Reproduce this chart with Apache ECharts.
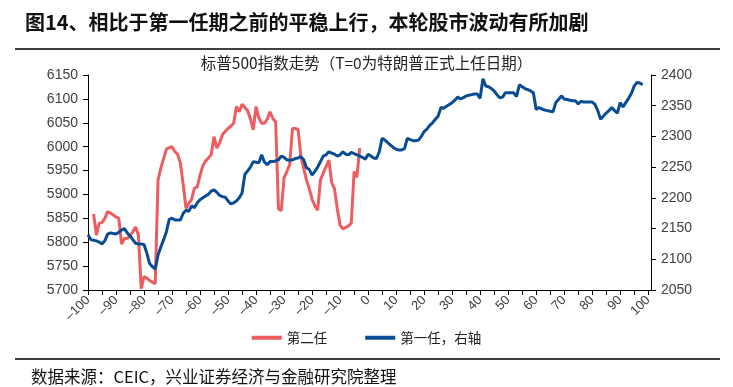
<!DOCTYPE html>
<html>
<head>
<meta charset="utf-8">
<script src="https://cdn.jsdelivr.net/npm/echarts@6/dist/echarts.min.js"></script>
<style>
html,body{margin:0;padding:0;background:#fff;}
#c{width:733px;height:387px;}
</style>
</head>
<body>
<div id="c"></div>
<script>
// Second term (left axis): T and S&P 500 level
var secondT = [-98,-97,-96,-95,-94,-93,-92,-91,-90,-89,-88,-87,-86,-85,-84,-83,-82,-81,-80,-79,-78,-77,-76,-75,-74,-73,-72,-71,-70,-69,-68,-67,-66,-65,-64,-63,-62,-61,-60,-59,-58,-57,-56,-55,-54,-53,-52,-51,-50,-49,-48,-47,-46,-45,-44,-43,-42,-41,-40,-39,-38,-37,-36,-35,-34,-33,-32,-31,-30,-29,-28,-27,-26,-25,-24,-23,-22,-21,-20,-19,-18,-17,-16,-15,-14,-13,-12,-11,-10,-9,-8,-7,-6,-5,-4,-3];
var secondValues = [5859,5815,5840,5841,5850,5864,5861,5857,5853,5850,5796,5808,5808,5813,5822,5832,5815,5703,5728,5725,5720,5716,5713,5930,5955,5975,5995,5998,6000,5990,5984,5965,5920,5871,5881,5890,5913,5916,5940,5960,5970,5976,5984,6021,5997,6008,6025,6032,6038,6043,6049,6084,6073,6089,6082,6075,6058,6035,6084,6060,6049,6049,6058,6073,6059,6052,5870,5866,5935,5948,5962,6038,6038,6036,5979,5955,5930,5912,5890,5876,5867,5930,5945,5958,5972,5925,5912,5870,5836,5828,5831,5834,5840,5948,5936,5997];
// First term (right axis)
var firstT = [];
for (var t = -100; t <= 98; t++) firstT.push(t);
var firstValues = [2140,2132,2131,2130,2128,2125,2130,2141,2143,2142,2141,2144,2148,2150,2143,2138,2132,2126,2125,2125,2124,2110,2093,2088,2084,2107,2120,2132,2145,2165,2167,2164,2164,2164,2175,2180,2178,2187,2184,2192,2197,2200,2203,2206,2211,2213,2209,2204,2202,2201,2195,2190,2192,2195,2200,2208,2238,2244,2250,2259,2258,2257,2270,2258,2254,2259,2259,2260,2262,2268,2266,2262,2261,2262,2264,2265,2267,2262,2249,2246,2237,2243,2250,2259,2268,2270,2275,2273,2271,2268,2270,2275,2271,2270,2274,2272,2270,2268,2266,2263,2271,2268,2265,2264,2275,2297,2294,2290,2286,2282,2279,2278,2278,2280,2297,2295,2293,2293,2294,2300,2308,2312,2318,2322,2328,2333,2347,2346,2349,2352,2355,2359,2364,2361,2363,2366,2367,2368,2369,2369,2362,2394,2382,2381,2378,2374,2368,2363,2364,2371,2371,2371,2371,2365,2384,2381,2378,2376,2374,2371,2344,2347,2345,2343,2342,2341,2340,2355,2360,2366,2361,2360,2359,2358,2358,2353,2357,2356,2356,2356,2356,2352,2342,2328,2333,2338,2342,2347,2342,2338,2355,2348,2355,2362,2370,2382,2388,2387,2384];
var leftTicks = {min:5700, max:6150, step:50};
var rightTicks = {min:2050, max:2400, step:50};
var xTicks = {min:-100, max:100, step:5, labelStep:10};
var legendNames = ['第二任','第一任，右轴'];

function pairs(xs, ys){ return xs.map(function(x,i){ return [x, ys[i]]; }); }

var latin = '"Liberation Sans", Arial, Helvetica, sans-serif';
var cjk = '"Noto Sans CJK SC", "Liberation Sans", sans-serif';
var chart = echarts.init(document.getElementById('c'), null, {renderer:'canvas'});
var labelColor = '#404040';
chart.setOption({
  animation:false,
  backgroundColor:'#fff',
  title:[
    {text:'图14、相比于第一任期之前的平稳上行，本轮股市波动有所加剧', left:20, top:7,
     textStyle:{fontSize:20, fontWeight:'bold', color:'#111', fontFamily:cjk}},
    {text:'标普500指数走势（T=0为特朗普正式上任日期）', left:'center', top:50,
     textStyle:{fontSize:15.5, fontWeight:'normal', color:'#222', fontFamily:cjk}},
    {text:'数据来源：CEIC，兴业证券经济与金融研究院整理', left:26, top:363,
     textStyle:{fontSize:16.5, fontWeight:'normal', color:'#111', fontFamily:cjk}}
  ],
  graphic:[
    {type:'line', shape:{x1:15,y1:49,x2:720,y2:49}, style:{stroke:'#000', lineWidth:1.5}},
    {type:'line', shape:{x1:15,y1:359,x2:720,y2:359}, style:{stroke:'#000', lineWidth:1.5}}
  ],
  legend:{
    data:legendNames, left:'center', top:326, itemWidth:30, itemHeight:4, itemGap:38,
    icon:'rect',
    textStyle:{fontSize:13.5, color:'#222', fontFamily:cjk}
  },
  grid:{left:88, right:82, top:75, bottom:97},
  xAxis:{
    type:'value', min:xTicks.min, max:101, interval:xTicks.step,
    axisLine:{onZero:false, lineStyle:{color:'#000', width:1}},
    axisTick:{show:true, length:5, lineStyle:{color:'#000'}},
    splitLine:{show:false},
    axisLabel:{
      rotate:45, margin:8, fontSize:13, color:labelColor, fontFamily:latin,
      showMaxLabel:false,
      formatter:function(v){ return (v % xTicks.labelStep === 0 && v <= xTicks.max) ? String(v).replace('-', '–') : ''; }
    }
  },
  yAxis:[
    {type:'value', min:leftTicks.min, max:leftTicks.max, interval:leftTicks.step,
     axisLine:{show:true, onZero:false, lineStyle:{color:'#000'}},
     axisTick:{show:true, length:5, lineStyle:{color:'#000'}},
     splitLine:{show:false},
     axisLabel:{fontSize:14, color:labelColor, margin:10, fontFamily:latin, formatter:function(v){return String(v);}}},
    {type:'value', min:rightTicks.min, max:rightTicks.max, interval:rightTicks.step,
     position:'right',
     axisLine:{show:true, onZero:false, lineStyle:{color:'#000'}},
     axisTick:{show:true, length:5, lineStyle:{color:'#000'}},
     splitLine:{show:false},
     axisLabel:{fontSize:14, color:labelColor, margin:10, fontFamily:latin, formatter:function(v){return String(v);}}}
  ],
  series:[
    {name:legendNames[0], type:'line', yAxisIndex:0, data:pairs(secondT, secondValues),
     showSymbol:false, symbol:'none', lineStyle:{color:'#EE5C60', width:3}, itemStyle:{color:'#EE5C60'}, z:2},
    {name:legendNames[1], type:'line', yAxisIndex:1, data:pairs(firstT, firstValues),
     showSymbol:false, symbol:'none', lineStyle:{color:'#0A4C93', width:3}, itemStyle:{color:'#0A4C93'}, z:3}
  ]
});
</script>
</body>
</html>
